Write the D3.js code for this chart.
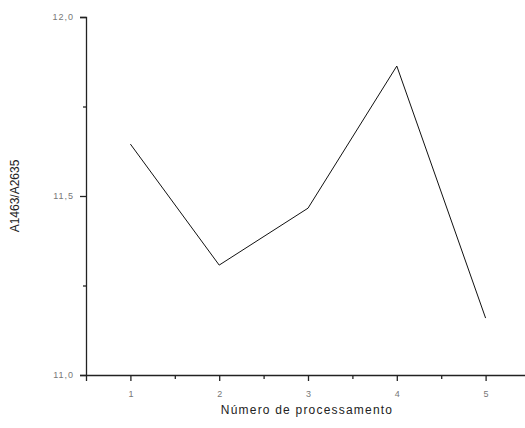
<!DOCTYPE html>
<html>
<head>
<meta charset="utf-8">
<script src="https://cdn.jsdelivr.net/npm/d3@7"></script>
<style>
  body { margin: 0; background: #fff; overflow: hidden; }
  svg { display: block; }
  text { font-family: "Liberation Sans", Arial, sans-serif; }
</style>
</head>
<body>
<div id="chart"></div>
<script>
var processos = [1, 2, 3, 4, 5];
var razao = [11.645, 11.307, 11.466, 11.863, 11.159];
var yTicks = [11.0, 11.5, 12.0];
var yMinor = [11.25, 11.75];
var xMinor = [1.5, 2.5, 3.5, 4.5];

var w = 525, h = 428;
var padLeft = 86, padRight = 530, padTop = 17, padBottom = 375;

var svg = d3.select("#chart").append("svg")
            .attr("width", w)
            .attr("height", h);

var xScale = d3.scaleLinear().domain([0.5, 5.5]).range([padLeft, padRight]);
var yScale = d3.scaleLinear().domain([11, 12]).range([padBottom, padTop]);

var fmt = function(d) { return d3.format(".1f")(d).replace(".", ","); };

// y axis
var yAxis = d3.axisLeft(yScale).tickValues(yTicks).tickSize(6).tickPadding(6).tickFormat(fmt);
var gy = svg.append("g").attr("transform", "translate(" + padLeft + ",0)").call(yAxis);
gy.select(".domain").attr("stroke", "#222").attr("stroke-width", 1.3);
gy.selectAll(".tick line").attr("stroke", "#222").attr("stroke-width", 1.3);
gy.selectAll(".tick text").attr("fill", "#777").attr("font-size", 9).attr("letter-spacing", 1);

var gyMinor = svg.append("g").attr("transform", "translate(" + padLeft + ",0)")
  .call(d3.axisLeft(yScale).tickValues(yMinor).tickSize(3).tickFormat(""));
gyMinor.select(".domain").remove();
gyMinor.selectAll(".tick line").attr("stroke", "#222").attr("stroke-width", 1.3);

// x axis
var xAxis = d3.axisBottom(xScale).tickValues(processos).tickSize(6).tickPadding(10).tickFormat(d3.format("d"));
var gx = svg.append("g").attr("transform", "translate(0," + padBottom + ")").call(xAxis);
gx.select(".domain").attr("stroke", "#222").attr("stroke-width", 1.3);
gx.selectAll(".tick line").attr("stroke", "#222").attr("stroke-width", 1.3);
gx.selectAll(".tick text").attr("fill", "#777").attr("font-size", 9);

var gxMinor = svg.append("g").attr("transform", "translate(0," + padBottom + ")")
  .call(d3.axisBottom(xScale).tickValues(xMinor).tickSize(4).tickFormat(""));
gxMinor.select(".domain").remove();
gxMinor.selectAll(".tick line").attr("stroke", "#222").attr("stroke-width", 1.3);

// line
var line = d3.line()
  .x(function(d, i) { return xScale(processos[i]); })
  .y(function(d) { return yScale(d); });

svg.append("path")
   .datum(razao)
   .attr("fill", "none")
   .attr("stroke", "#111")
   .attr("stroke-width", 1)
   .attr("d", line);

// labels
svg.append("text")
   .attr("x", 307)
   .attr("y", 414)
   .attr("text-anchor", "middle")
   .attr("font-size", 12)
   .attr("letter-spacing", 1.2)
   .attr("fill", "#222")
   .text("Número de processamento");

svg.append("text")
   .attr("transform", "translate(19," + yScale(11.5) + ") rotate(-90)")
   .attr("text-anchor", "middle")
   .attr("font-size", 12)
   .attr("fill", "#222")
   .text("A1463/A2635");
</script>
</body>
</html>
